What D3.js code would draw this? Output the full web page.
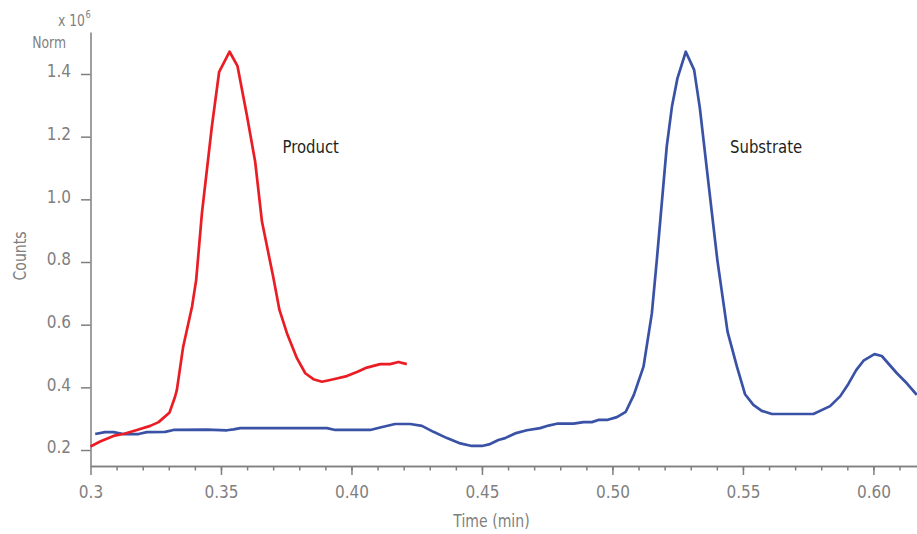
<!DOCTYPE html>
<html>
<head>
<meta charset="utf-8">
<script src="https://cdn.jsdelivr.net/npm/d3@7"></script>
<style>
  body { margin: 0; background: #fff; }
  svg text { font-family: "Liberation Sans Narrow", "DejaVu Sans Condensed", "Arial Narrow", sans-serif; font-stretch: condensed; }
</style>
</head>
<body>
<svg id="chart" width="917" height="534"></svg>
<script>
// product peak (red)
var productTime = [0.3000, 0.3037, 0.3088, 0.3126, 0.3178, 0.3229, 0.3261, 0.3303, 0.3324, 0.3331,
  0.3355, 0.3389, 0.3405, 0.3427, 0.3465, 0.3493, 0.3533, 0.3563, 0.3599, 0.3631,
  0.3657, 0.3701, 0.3724, 0.3753, 0.3791, 0.3823, 0.3854, 0.3887, 0.3931, 0.3982,
  0.4021, 0.4059, 0.4110, 0.4148, 0.4180, 0.4212];
var productCounts = [0.211, 0.227, 0.245, 0.251, 0.264, 0.277, 0.289, 0.320, 0.370, 0.392,
  0.529, 0.657, 0.743, 0.956, 1.232, 1.407, 1.471, 1.426, 1.269, 1.120,
  0.929, 0.749, 0.647, 0.572, 0.493, 0.445, 0.426, 0.418, 0.426, 0.436,
  0.449, 0.463, 0.474, 0.474, 0.481, 0.474];

// substrate trace (blue)
var substrateTime = [0.3018, 0.3056, 0.3088, 0.3126, 0.3184, 0.3216, 0.3286, 0.3318, 0.3446, 0.3523,
  0.3548, 0.3574, 0.3906, 0.3938, 0.4072, 0.4110, 0.4167, 0.4225, 0.4270, 0.4314,
  0.4366, 0.4417, 0.4461, 0.4500, 0.4531, 0.4563, 0.4589, 0.4627, 0.4672, 0.4723,
  0.4755, 0.4787, 0.4851, 0.4889, 0.4921, 0.4946, 0.4979, 0.5017, 0.5051, 0.5082,
  0.5119, 0.5151, 0.5170, 0.5208, 0.5228, 0.5249, 0.5281, 0.5313, 0.5335, 0.5368,
  0.5402, 0.5441, 0.5477, 0.5508, 0.5540, 0.5572, 0.5611, 0.5643, 0.5770, 0.5834,
  0.5873, 0.5904, 0.5934, 0.5962, 0.6004, 0.6032, 0.6090, 0.6128, 0.6166];
var substrateCounts = [0.251, 0.257, 0.257, 0.251, 0.251, 0.257, 0.258, 0.264, 0.265, 0.263,
  0.266, 0.270, 0.270, 0.264, 0.264, 0.272, 0.283, 0.283, 0.277, 0.258,
  0.238, 0.221, 0.213, 0.213, 0.219, 0.232, 0.238, 0.253, 0.263, 0.270,
  0.278, 0.284, 0.284, 0.289, 0.289, 0.296, 0.296, 0.305, 0.322, 0.376,
  0.466, 0.636, 0.806, 1.168, 1.296, 1.386, 1.471, 1.413, 1.291, 1.051,
  0.806, 0.578, 0.466, 0.378, 0.344, 0.325, 0.315, 0.315, 0.315, 0.340,
  0.372, 0.411, 0.455, 0.485, 0.506, 0.500, 0.445, 0.413, 0.376];

var xTicks = [0.30, 0.35, 0.40, 0.45, 0.50, 0.55, 0.60];
var xTickLabels = ['0.3', '0.35', '0.40', '0.45', '0.50', '0.55', '0.60'];
var xMinorTicks = d3.range(31, 62).map(function (d) { return d / 100; });
var yTicks = [0.2, 0.4, 0.6, 0.8, 1.0, 1.2, 1.4];
var yTickLabels = ['0.2', '0.4', '0.6', '0.8', '1.0', '1.2', '1.4'];

var axisColor = '#7f7f7f';
var squeeze = 0.92;
var svg = d3.select('#chart');

var xScale = d3.scaleLinear()
  .domain([0.3, 0.6167])
  .range([90.5, 917]);
var yScale = d3.scaleLinear()
  .domain([0.149, 1.534])
  .range([466, 32]);

var xAxis = d3.axisBottom()
  .scale(xScale)
  .tickValues(xTicks)
  .tickFormat(function (d, i) { return xTickLabels[i]; })
  .tickSize(9)
  .tickSizeOuter(0)
  .tickPadding(11);
var xMinor = d3.axisBottom()
  .scale(xScale)
  .tickValues(xMinorTicks)
  .tickFormat('')
  .tickSize(4.5)
  .tickSizeOuter(0);
var yAxis = d3.axisLeft()
  .scale(yScale)
  .tickValues(yTicks)
  .tickFormat(function (d, i) { return yTickLabels[i]; })
  .tickSize(9.5)
  .tickSizeOuter(0)
  .tickPadding(10);

var gxm = svg.append('g')
  .attr('transform', 'translate(0, 466)')
  .call(xMinor);
var gx = svg.append('g')
  .attr('transform', 'translate(0, 466)')
  .call(xAxis);
var gy = svg.append('g')
  .attr('transform', 'translate(90.5, 0)')
  .call(yAxis);

[gx, gxm, gy].forEach(function (g) {
  g.selectAll('path, line')
    .attr('stroke', axisColor)
    .attr('stroke-width', 1.5);
  g.selectAll('text')
    .attr('fill', axisColor)
    .attr('font-size', '17px')
    .attr('font-family', null);
});
gy.selectAll('text').attr('dy', '0.16em');

var line = d3.line()
  .x(function (d) { return xScale(d[0]); })
  .y(function (d) { return yScale(d[1]); });

svg.append('path')
  .datum(d3.zip(substrateTime, substrateCounts))
  .attr('d', line)
  .attr('fill', 'none')
  .attr('stroke', '#3a52a6')
  .attr('stroke-width', 2.7)
  .attr('stroke-linejoin', 'round');

svg.append('path')
  .datum(d3.zip(productTime, productCounts))
  .attr('d', line)
  .attr('fill', 'none')
  .attr('stroke', '#ea1d25')
  .attr('stroke-width', 2.7)
  .attr('stroke-linejoin', 'round');

// free text, squeezed a little to look like the condensed face of the original
function label(x, y, size, anchor, color, str, rotate) {
  return svg.append('text')
    .attr('transform', 'translate(' + x + ', ' + y + ')' + (rotate ? ' rotate(-90)' : '') + ' scale(' + squeeze + ', 1)')
    .attr('text-anchor', anchor)
    .attr('font-size', size + 'px')
    .attr('fill', color)
    .text(str);
}

label(282.5, 153, 18, 'start', '#231f20', 'Product');
label(730, 153, 18, 'start', '#231f20', 'Substrate');
label(26, 256, 17, 'middle', axisColor, 'Counts', true);
label(491.5, 527, 17, 'middle', axisColor, 'Time (min)');
label(85, 26, 15, 'end', axisColor, 'x 10');
label(85.5, 18, 10, 'start', axisColor, '6');
label(66, 48, 15, 'end', axisColor, 'Norm');
</script>
</body>
</html>
